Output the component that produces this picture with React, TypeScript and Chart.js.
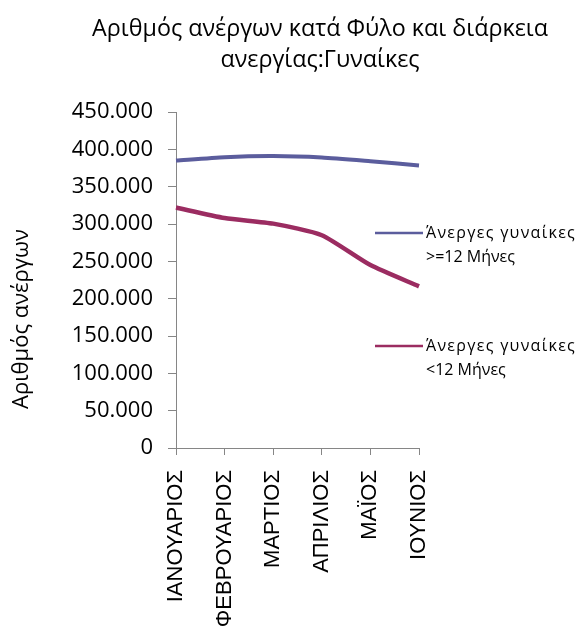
import { useEffect, useRef } from 'react';
import { Chart, registerables } from 'chart.js';

Chart.register(...registerables);

const categories = ['ΙΑΝΟΥΑΡΙΟΣ', 'ΦΕΒΡΟΥΑΡΙΟΣ', 'ΜΑΡΤΙΟΣ', 'ΑΠΡΙΛΙΟΣ', 'ΜΑΪΟΣ', 'ΙΟΥΝΙΟΣ'];
const longTerm = [385000, 389500, 391000, 389000, 384000, 378500];
const shortTerm = [322000, 308000, 300500, 285000, 245000, 216500];
const seriesNames = ['Άνεργες γυναίκες >=12 Μήνες', 'Άνεργες γυναίκες <12 Μήνες'];
const legendLines = [
  ['Άνεργες γυναίκες', '>=12 Μήνες'],
  ['Άνεργες γυναίκες', '<12 Μήνες'],
];
const titleLines = ['Αριθμός ανέργων κατά Φύλο και διάρκεια', 'ανεργίας:Γυναίκες'];
const yTitle = 'Αριθμός ανέργων';
const yMin = 0;
const yMax = 450000;
const yStep = 50000;

const BLUE = '#5b5d9d';
const RED = '#9b2c61';
const AXIS = '#868686';
const SANS = '"Open Sans", "Noto Sans", sans-serif';
const LIB = '"Liberation Sans", Arial, sans-serif';

function fmt(v: number): string {
  if (v === 0) return '0';
  const th = Math.floor(v / 1000);
  const rest = String(v % 1000).padStart(3, '0');
  return th + '.' + rest;
}

const decorPlugin = {
  id: 'decor',
  afterDraw(chart: any) {
    const ctx = chart.ctx as CanvasRenderingContext2D;
    ctx.save();
    // title
    ctx.fillStyle = '#000';
    ctx.textAlign = 'center';
    ctx.textBaseline = 'middle';
    ctx.font = `23.3px ${SANS}`;
    ctx.fillText(titleLines[0], 320, 29);
    ctx.fillText(titleLines[1], 320, 60);
    // y title
    ctx.save();
    ctx.translate(22, 319);
    ctx.rotate(-Math.PI / 2);
    ctx.font = `22px ${SANS}`;
    ctx.fillText(yTitle, 0, 0);
    ctx.restore();
    // legend
    const colors = [BLUE, RED];
    const ys = [233, 346];
    ctx.textAlign = 'left';
    ctx.font = `16px ${SANS}`;
    for (let i = 0; i < 2; i++) {
      ctx.strokeStyle = colors[i];
      ctx.lineWidth = 2.5;
      ctx.beginPath();
      ctx.moveTo(375, ys[i]);
      ctx.lineTo(423, ys[i]);
      ctx.stroke();
      ctx.fillStyle = '#000';
      (ctx as any).letterSpacing = '1.3px';
      ctx.fillText(legendLines[i][0], 426, ys[i]);
      (ctx as any).letterSpacing = '0px';
      ctx.fillText(legendLines[i][1], 426, ys[i] + 24);
    }
    ctx.restore();
  },
};

export default function App() {
  const ref = useRef<HTMLCanvasElement>(null);
  useEffect(() => {
    if (!ref.current) return;
    const chart = new Chart(ref.current, {
      type: 'line',
      data: {
        labels: categories,
        datasets: [
          {
            label: seriesNames[0],
            data: longTerm,
            borderColor: BLUE,
            backgroundColor: BLUE,
            borderWidth: 4,
            pointRadius: 0,
            tension: 0.2,
          },
          {
            label: seriesNames[1],
            data: shortTerm,
            borderColor: RED,
            backgroundColor: RED,
            borderWidth: 4.5,
            pointRadius: 0,
            tension: 0.2,
          },
        ],
      },
      options: {
        animation: false,
        responsive: true,
        maintainAspectRatio: false,
        layout: { padding: { top: 112, left: 0, right: 158, bottom: 0 } },
        plugins: {
          legend: { display: false },
          title: { display: false },
          tooltip: { enabled: false },
        },
        scales: {
          x: {
            type: 'category',
            offset: false,
            border: { color: AXIS, width: 1 },
            grid: { drawOnChartArea: false, drawTicks: true, tickLength: 7, color: AXIS },
            ticks: {
              autoSkip: false,
              maxRotation: 90,
              minRotation: 90,
              padding: 15,
              color: '#000',
              font: { family: LIB, size: 22 },
            },
            afterFit: (s: any) => {
              s.height = 630 - 448;
            },
          },
          y: {
            min: yMin,
            max: yMax,
            border: { color: AXIS, width: 1 },
            grid: { drawOnChartArea: false, drawTicks: true, tickLength: 8, color: AXIS },
            ticks: {
              stepSize: yStep,
              padding: 15,
              color: '#000',
              font: { family: SANS, size: 22 },
              callback: (v: any) => fmt(Number(v)),
            },
            afterFit: (s: any) => {
              s.width = 176;
            },
          },
        },
      },
      plugins: [decorPlugin],
    });
    return () => chart.destroy();
  }, []);
  return (
    <div style={{ position: 'absolute', left: 0, top: 0, width: 577, height: 630, background: '#fff' }}>
      <canvas ref={ref} />
    </div>
  );
}
